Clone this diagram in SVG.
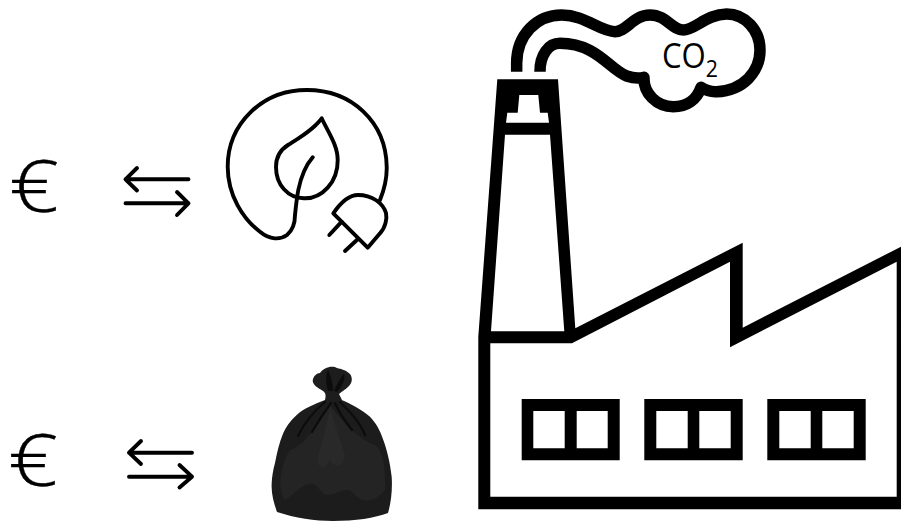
<svg xmlns="http://www.w3.org/2000/svg" width="901" height="521" viewBox="0 0 901 521">
<style>
.ln{fill:none;stroke:#000;stroke-linecap:round;stroke-linejoin:round}
.th{stroke-width:3.9}
.eu{font-family:"Open Sans","Liberation Sans",sans-serif;font-weight:300;font-size:72px;fill:#000;stroke:#000;stroke-width:.3}
.co{font-family:"Open Sans","Liberation Sans",sans-serif;fill:#000}
</style>
<rect width="901" height="521" fill="#fff"/>
<g id="euro-top"><text class="eu" x="9" y="212" textLength="50" lengthAdjust="spacingAndGlyphs">€</text></g>
<g id="euro-bottom"><text class="eu" x="8" y="486" textLength="50" lengthAdjust="spacingAndGlyphs">€</text></g>
<g id="connectors">
<path class="ln th" d="M188.500,179.300H125.500M137,168L125.500,179.300L137,190.500"/>
<path class="ln th" d="M125.500,203.300H188.500M177,192L188.500,203.300L177,215"/>
<path class="ln th" d="M192,452.700H129M141,441L129,452.700L141,464"/>
<path class="ln th" d="M129,476.700H192M179.500,465L192,476.700L179.500,487.500"/>
</g>
<g id="green-energy">
<path class="ln th" d="M380,200C384,190 387,178 386.700,166.700C386,122 352,90 306.700,90C262,90 227.700,124 227.700,166.700C227.700,195 243,219 260,231.700C270,240 280,240 287,235C294,229 295,222 295,215C296,205 297,197 298.300,190C301,177 306,165 312.700,157.300"/>
<path class="ln th" d="M321.700,118.300C313,130 299,138 288,145C280,150 276,158 276,167C276,185 288,198 304,198.300C322,199 338,182 337.700,160C337.700,145 328,132 321.700,118.300Z"/>
<path class="ln th" d="M333.300,213.300L367.700,247.700L380,233.300C386,227 387,218 386,213C383,203 372,195 358,195C348,195 339,205 333.300,213.300Z"/>
<path class="ln th" d="M341.700,221.700L329.300,235M357.700,239.300L345,251"/>
</g>
<g id="trash-bag">
<path fill="#1c1c1c" d="M325,400C315,404 304,408 296.700,415C290,421 286,427 283.300,433C279,443 277,453 275,463C273,470 272,477 271.700,483C271,494 274,503 277,512C295,518 315,521 333,521C355,521 375,518 388,513C391,503 392.500,490 391.700,477C390,462 387,450 383.300,440C380,430 376,423 370,416.700C362,410 351,404 341.700,400Z"/>
<path fill="#242424" d="M330,405C318,425 305,445 290,450C280,465 277,490 285,500C300,490 310,475 320,490C330,505 345,480 355,495C365,505 378,500 385,490C386,470 383,450 375,445C360,440 345,425 330,405Z"/>
<path fill="#292929" d="M330,408C325,430 322,445 318,455C315,470 325,470 330,460C335,470 345,465 345,455C340,440 335,425 330,408Z"/>
<path fill="none" stroke="#0c0c0c" stroke-width="2.200" stroke-linecap="round" d="M325,402C315,410 305,422 298,436M331,403C322,415 316,425 312,432M335,403C340,415 348,425 352,430M340,402C350,412 360,422 365,435"/>
<path fill="#1d1d1d" d="M325,400C326,396 326,393 323,391C318,388 313,385 312.700,381C313,376 317,373 320,373C323,368 332,365 337,368C341,369 346,370 350,374C353,378 352,383 349,386C345,390 341,392 339,394C340,396 341,398 342,400C337,403 330,403 325,400Z"/>
<path fill="#0c0c0c" d="M328,391C326,383 325,376 328,370C331,376 333,384 333,391ZM334,391C337,384 340,378 344,374C346,380 341,388 337,392Z"/>
</g>
<g id="factory">
<path fill="#000" fill-rule="evenodd" d="M478.300,509.300H901V246.700L742.700,327.700V242.700L575.300,328.300L558,79.300H497.300L478.300,336.700ZM490.300,343.300H572L730,261.700V347.300L896.700,261.700V496.700H490.300ZM491,331.300L505,134.700H550L564.300,331.300ZM519.300,95H538.300L540,112.700H547.700L549,122.700H506L507.300,112.700H517.700Z"/>
<path fill="#000" fill-rule="evenodd" d="M521.700,399H619.700V460.300H521.700ZM533.300,411V448.300H564.700V411ZM576.700,411V448.300H607.700V411Z"/>
<path fill="#000" fill-rule="evenodd" d="M644.300,399H742.700V460.300H644.300ZM656.300,411V448.300H687.700V411ZM699.300,411V448.300H730.700V411Z"/>
<path fill="#000" fill-rule="evenodd" d="M767.300,399H865.700V460.300H767.300ZM779.300,411V448.300H810.700V411ZM822.300,411V448.300H853.700V411Z"/>
</g>
<g id="smoke">
<path fill="none" stroke="#000" stroke-width="34.500" stroke-linejoin="round" transform="translate(470 0) scale(.33333)" d="M140,215V190C140,105 200,45 275,45C345,45 390,95 435,95C470,95 490,45 540,45C590,45 605,90 640,90C675,90 710,42 770,42C825,42 870,90 870,150C870,215 820,272 740,275C720,276 705,270 693,262C680,300 650,320 610,320C560,320 520,280 522,232C510,235 490,235 470,228C420,210 380,130 270,130C235,130 210,165 210,215"/>
<text class="co" x="662" y="68" font-size="35" textLength="56" lengthAdjust="spacingAndGlyphs">CO<tspan font-size="24" dy="9">2</tspan></text>
</g>
</svg>
